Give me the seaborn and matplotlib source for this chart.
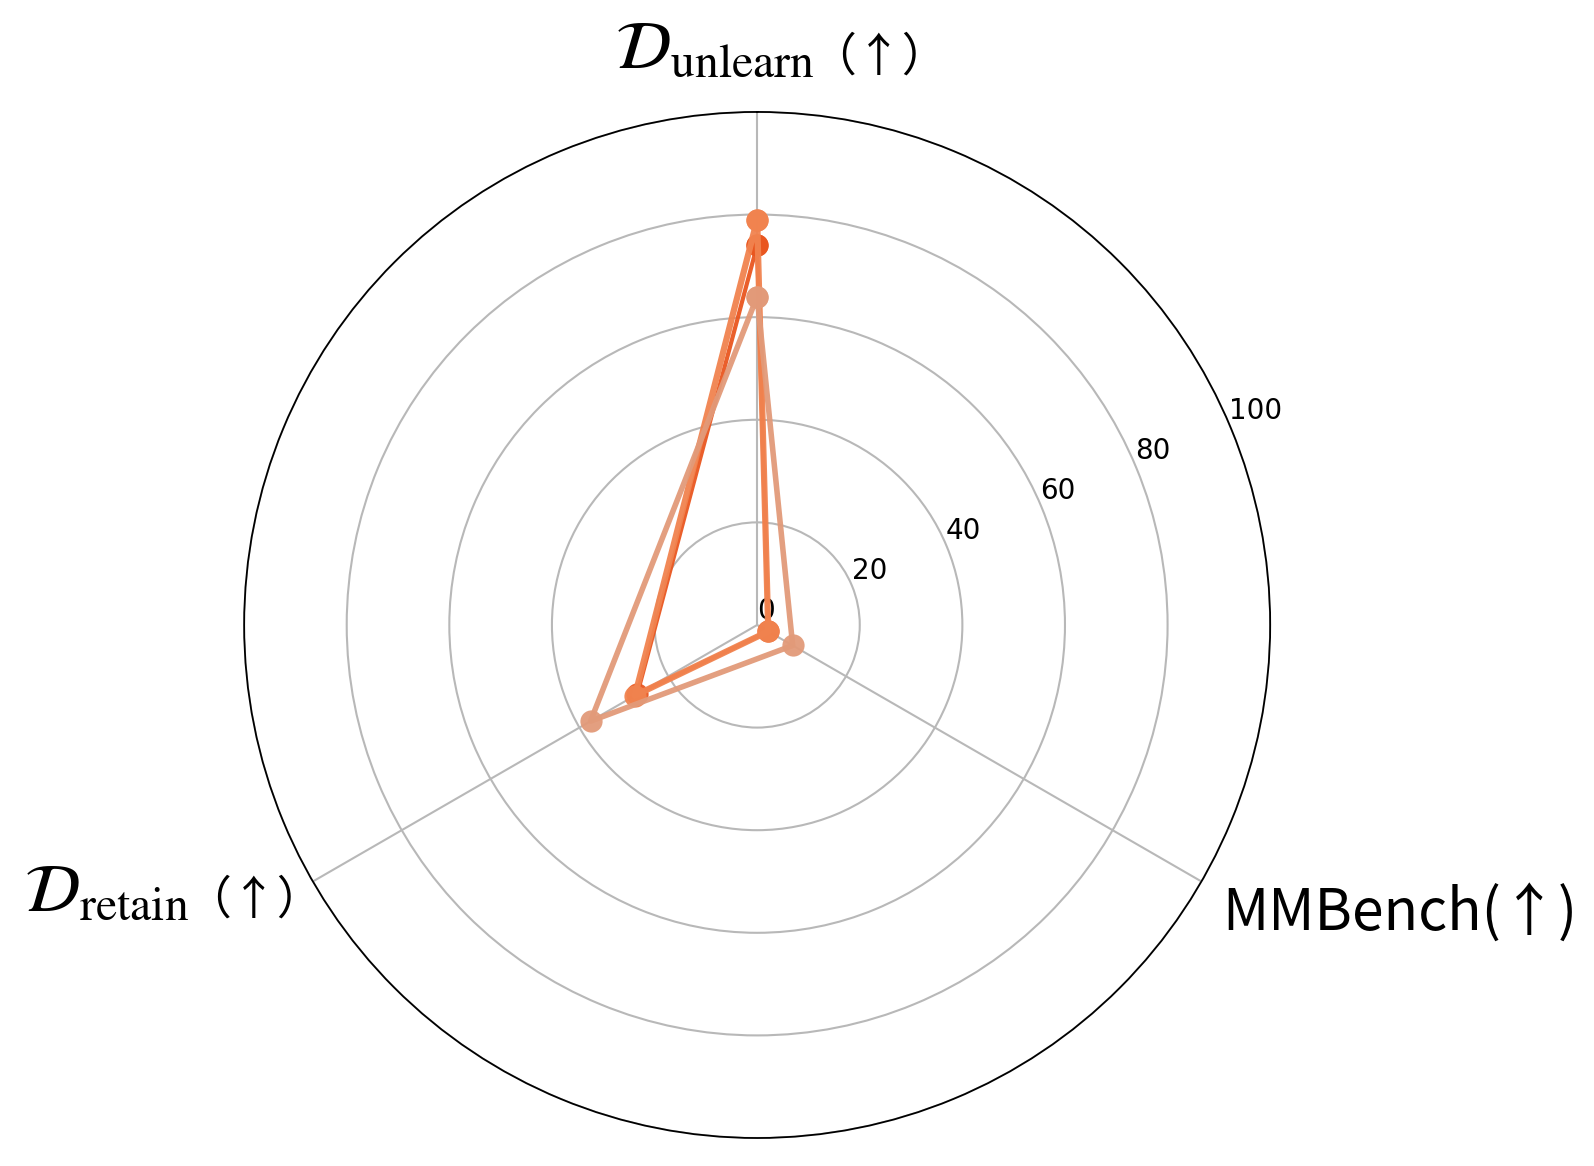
import numpy as np
import matplotlib
matplotlib.use("Agg")
import matplotlib.pyplot as plt
import seaborn as sns

# axes (clockwise from top): D_unlearn, MMBench, D_retain
axis_names = ["unlearn", "MMBench", "retain"]
series_names = ["Method A", "Method B", "Method C"]
method_a = [74, 2.5, 27]
method_b = [79, 2.5, 27.5]
method_c = [64, 8, 37.5]
r_ticks = [0, 20, 40, 60, 80, 100]

colors = ["#E9561F", "#F1834F", "#E29A79"]
widths = [3.0, 4.5, 4.0]

sns.set_style("white")
plt.rcParams["font.family"] = ["DejaVu Sans"]
plt.rcParams["mathtext.fontset"] = "stix"
plt.rcParams["text.color"] = "black"
plt.rcParams["ytick.color"] = "black"

fig = plt.figure(figsize=(15.94, 11.66), dpi=100)
ax = fig.add_axes([0.153, 0.024, 0.644, 0.88], polar=True)
ax.set_theta_offset(np.pi / 2)
ax.set_theta_direction(-1)

theta = np.linspace(0, 2 * np.pi, len(axis_names), endpoint=False)
theta_closed = np.append(theta, theta[0] + 2 * np.pi)

for vals, c, lw in zip([method_a, method_b, method_c], colors, widths):
    v = np.append(vals, vals[0])
    sns.lineplot(x=theta_closed, y=v, ax=ax, sort=False, estimator=None,
                 color=c, lw=lw, marker="o", markersize=16,
                 markeredgewidth=0, alpha=0.95)

ax.set_ylim(0, 100)
ax.set_yticks(r_ticks)
ax.set_yticklabels([str(t) for t in r_ticks], fontsize=20, color="black")
ax.set_rlabel_position(67)
ax.set_xticks(theta)
ax.set_xticklabels([])
ax.set_xlabel("")
ax.set_ylabel("")
ax.grid(True, color="#b8b8b8", lw=1.5)
ax.spines["polar"].set_color("black")
ax.spines["polar"].set_linewidth(1.3)

cjk = ["Noto Sans CJK SC", "DejaVu Sans"]

# axis labels
t_top = fig.text(0.511, 0.958, r"$\mathcal{D}_{\mathrm{unlearn}}$", fontsize=49,
                 ha="right", va="center", color="black")
ax.annotate("（↑）", xy=(1, 0.5), xycoords=t_top, xytext=(-3, -6),
            textcoords="offset points", fontsize=33, family=cjk,
            ha="left", va="center", color="black")

t_ret = fig.text(0.015, 0.235, r"$\mathcal{D}_{\mathrm{retain}}$", fontsize=49,
                 ha="left", va="center", color="black")
ax.annotate("（↑）", xy=(1, 0.5), xycoords=t_ret, xytext=(-3, -6),
            textcoords="offset points", fontsize=33, family=cjk,
            ha="left", va="center", color="black")

fig.text(0.767, 0.217, "MMBench(↑)", fontsize=41, family=cjk,
         ha="left", va="center", color="black")

fig.savefig("out.png", dpi=100)
